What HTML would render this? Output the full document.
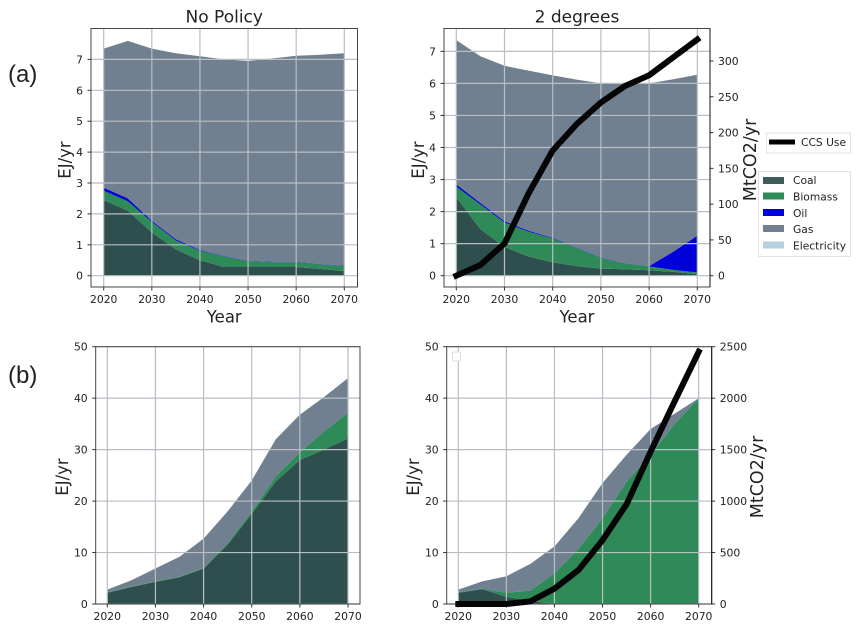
<!DOCTYPE html>
<html>
<head>
<meta charset="utf-8">
<style>
html,body{margin:0;padding:0;background:#fff;width:863px;height:634px;overflow:hidden}
svg{display:block;filter:blur(0.35px)}
text{font-family:"DejaVu Sans","Liberation Sans",sans-serif;fill:#222}
</style>
</head>
<body>
<svg id="fig" width="863" height="634" viewBox="0 0 863 634" xmlns="http://www.w3.org/2000/svg">
  <text x="8" y="82" style="font-family:'Liberation Sans',sans-serif;font-size:24px">(a)</text>
  <text x="8" y="383" style="font-family:'Liberation Sans',sans-serif;font-size:24px">(b)</text>
  <g>
    <rect x="766.5" y="133" width="84" height="20" fill="#fff" stroke="#e2e2e2"/>
    <line x1="769" x2="795" y1="142" y2="142" stroke="#000" stroke-width="5"/>
    <text x="801" y="146" font-size="10.7">CCS Use</text>
  </g>
  <g>
    <rect x="758.5" y="171.5" width="92" height="85" fill="#fff" stroke="#e2e2e2"/>
    <rect x="763" y="177" width="21" height="7" fill="#2f4f4f" opacity=".92"/>
    <text x="793" y="184" font-size="10.7">Coal</text>
    <rect x="763" y="192.5" width="21" height="7" fill="#2e8b57"/>
    <text x="793" y="200.5" font-size="10.7">Biomass</text>
    <rect x="763" y="209" width="21" height="7" fill="#0000d8"/>
    <text x="793" y="217" font-size="10.7">Oil</text>
    <rect x="763" y="225" width="21" height="7" fill="#708090"/>
    <text x="793" y="233" font-size="10.7">Gas</text>
    <rect x="763" y="241.5" width="21" height="7" fill="#b4d0de"/>
    <text x="793" y="249.5" font-size="10.7">Electricity</text>
  </g>
</svg>
<script>
const years = [2020,2025,2030,2035,2040,2045,2050,2055,2060,2065,2070];
const xTicks = [2020,2030,2040,2050,2060,2070];
const topTicks = [0,1,2,3,4,5,6,7];
const bottomTicks = [0,10,20,30,40,50];
const ccsTicksTop = [0,50,100,150,200,250,300];
const ccsTicksBottom = [0,500,1000,1500,2000,2500];

const coalNoPolicyA = [2.45,2.1,1.4,0.85,0.5,0.28,0.28,0.28,0.28,0.22,0.15];
const biomassNoPolicyA = [0.3,0.31,0.34,0.29,0.31,0.35,0.2,0.16,0.16,0.15,0.16];
const oilNoPolicyA = [0.1,0.09,0.04,0.04,0.02,0.01,0.01,0.01,0.01,0.01,0.01];
const gasNoPolicyA = [4.5,5.1,5.57,6.02,6.27,6.36,6.46,6.58,6.67,6.77,6.88];

const coalTwoDegA = [2.45,1.45,0.9,0.6,0.42,0.3,0.22,0.2,0.17,0.12,0.05];
const biomassTwoDegA = [0.33,0.77,0.76,0.77,0.74,0.56,0.34,0.18,0.12,0.06,0.05];
const oilTwoDegA = [0.07,0.05,0.04,0.03,0.02,0.01,0.01,0.01,0.01,0.57,1.15];
const gasTwoDegA = [4.5,4.58,4.85,5.0,5.07,5.25,5.43,5.61,5.7,5.38,5.02];
const ccsTwoDegA = [0,15,45,115,175,212,242,265,280,305,330];

const coalNoPolicyB = [2.2,3.3,4.3,5.2,6.9,11.5,17.5,23.8,28,30,32.2];
const biomassNoPolicyB = [0.1,0.1,0.1,0.1,0.1,0.3,0.5,1,1.5,3.5,5];
const oilNoPolicyB = [0,0,0,0,0,0,0,0,0,0,0];
const gasNoPolicyB = [0.5,1.2,2.5,3.9,5.7,6.2,6,7.2,7.3,6.7,6.7];

const coalTwoDegB = [2.2,2.9,1.4,0.6,0,0,0,0,0,0,0];
const biomassTwoDegB = [0.1,0.1,0.8,2,6,10.7,16.7,23.8,29,35,40];
const oilTwoDegB = [0,0,0,0,0,0,0,0,0,0,0];
const gasTwoDegB = [0.5,1.4,3.2,5.2,5.2,6,6.8,5.2,5,2,0];
const ccsTwoDegB = [0,0,0,25,150,330,620,970,1480,1970,2450];

const fuelColors = ['#2f4f4f','#2e8b57','#0000d8','#708090'];
const fuelNames = ['coal','biomass','oil','gas'];

const svg = document.getElementById('fig');
const NS = 'http://www.w3.org/2000/svg';

function make(tag, props, parent) {
  const e = document.createElementNS(NS, tag);
  for (const k in props) e.setAttribute(k, props[k]);
  parent.appendChild(e);
  return e;
}

function drawPanel(p) {
  const g = make('g', {}, svg);
  
  
  const xs = y => p.x0 + (y - 2020) / 50 * (p.x1 - p.x0);
  const ys = v => p.y0 - v * p.k;
  const ysR = v => p.y0 - v * p.kR;

  // stacked areas
  let base = years.map(() => 0);
  p.series.forEach((vals, s) => {
    const top = base.map((b, i) => b + vals[i]);
    let pts = years.map((y, i) => xs(y).toFixed(1) + ',' + ys(top[i]).toFixed(1));
    for (let i = years.length - 1; i >= 0; i--) pts.push(xs(years[i]).toFixed(1) + ',' + ys(base[i]).toFixed(1));
    const area = make('polygon', {points: pts.join(' '), fill: fuelColors[s]}, g);
    
    
    base = top;
  });

  // grid
  xTicks.forEach(t => {
    const l = make('line', {x1: xs(t), x2: xs(t), y1: p.top, y2: p.bottom, stroke: '#b8bec4', 'stroke-width': 1.2}, g);
    
    
  });
  p.yTicks.forEach(t => {
    const l = make('line', {x1: p.left, x2: p.right, y1: ys(t), y2: ys(t), stroke: '#b8bec4', 'stroke-width': 1.2}, g);
    
    
  });

  // frame
  const frame = make('rect', {x: p.left, y: p.top, width: p.right - p.left, height: p.bottom - p.top, fill: 'none', stroke: '#444', 'stroke-width': 1}, g);
  
  

  // x ticks
  xTicks.forEach(t => {
    const m = make('line', {x1: xs(t), x2: xs(t), y1: p.bottom, y2: p.bottom + 3.5, stroke: '#333', 'stroke-width': 1}, g);
    
    
    const tx = make('text', {x: xs(t), y: p.bottom + 16, 'text-anchor': 'middle', 'font-size': 10.8}, g);
    tx.textContent = t;
    
    
  });

  // y ticks
  p.yTicks.forEach(t => {
    const m = make('line', {x1: p.left - 3.5, x2: p.left, y1: ys(t), y2: ys(t), stroke: '#333', 'stroke-width': 1}, g);
    
    
    const tx = make('text', {x: p.left - 8, y: ys(t) + 4, 'text-anchor': 'end', 'font-size': 10.8}, g);
    tx.textContent = t;
    
    
  });

  // y axis title
  const yT = make('text', {transform: 'translate(' + p.yTitleX + ',' + p.yTitleY + ') rotate(-90)', 'text-anchor': 'middle', 'font-size': 16.5}, g);
  yT.textContent = 'EJ/yr';
  
  

  if (p.title) {
    const t = make('text', {x: (p.left + p.right) / 2, y: 22.5, 'text-anchor': 'middle', 'font-size': 17}, g);
    t.textContent = p.title;
    
    
  }
  if (p.xTitle) {
    const t = make('text', {x: (p.left + p.right) / 2, y: 322.5, 'text-anchor': 'middle', 'font-size': 16.5}, g);
    t.textContent = 'Year';
    
    
  }

  // CCS secondary axis
  if (p.ccs) {
    p.ccsTicks.forEach(t => {
      const m = make('line', {x1: p.right, x2: p.right + 3.5, y1: ysR(t), y2: ysR(t), stroke: '#333', 'stroke-width': 1}, g);
      
      
      const tx = make('text', {x: p.right + 8, y: ysR(t) + 4, 'font-size': 10.8}, g);
      tx.textContent = t;
      
      
    });
    const rs = make('line', {x1: p.right, x2: p.right, y1: p.top, y2: p.bottom, stroke: '#111', 'stroke-width': 1}, g);
    
    
    const rT = make('text', {transform: 'translate(' + p.rTitleX + ',' + p.rTitleY + ') rotate(-90)', 'text-anchor': 'middle', 'font-size': 17.5}, g);
    rT.textContent = 'MtCO2/yr';
    
    
    const pts = years.map((y, i) => xs(y).toFixed(1) + ',' + ysR(p.ccs[i]).toFixed(1)).join(' ');
    const line = make('polyline', {points: pts, fill: 'none', stroke: '#050505', 'stroke-width': 6, 'stroke-linejoin': 'round', 'stroke-linecap': 'square'}, g);
    
    
  }
}

drawPanel({name:'chart-no-policy-a', title:'No Policy', xTitle:true, left:91, right:357.5, top:28.5, bottom:287,
  x0:103.7, x1:344.3, y0:275.7, k:30.9, yTicks:topTicks, yTitleX:70.5, yTitleY:160,
  series:[coalNoPolicyA,biomassNoPolicyA,oilNoPolicyA,gasNoPolicyA]});
drawPanel({name:'chart-two-degrees-a', title:'2 degrees', xTitle:true, left:444, right:710, top:28.5, bottom:287,
  x0:456.3, x1:697.3, y0:275.7, k:32.05, yTicks:topTicks, yTitleX:424, yTitleY:160,
  series:[coalTwoDegA,biomassTwoDegA,oilTwoDegA,gasTwoDegA],
  ccs:ccsTwoDegA, kR:0.7157, ccsTicks:ccsTicksTop, rTitleX:756, rTitleY:160});
drawPanel({name:'chart-no-policy-b', left:95.7, right:360, top:346.7, bottom:604,
  x0:107.3, x1:348, y0:604, k:5.146, yTicks:bottomTicks, yTitleX:68, yTitleY:477,
  series:[coalNoPolicyB,biomassNoPolicyB,oilNoPolicyB,gasNoPolicyB]});
drawPanel({name:'chart-two-degrees-b', left:446.7, right:711.7, top:346.7, bottom:604,
  x0:458.3, x1:698.7, y0:604, k:5.146, yTicks:bottomTicks, yTitleX:419, yTitleY:477,
  series:[coalTwoDegB,biomassTwoDegB,oilTwoDegB,gasTwoDegB],
  ccs:ccsTwoDegB, kR:0.10292, ccsTicks:ccsTicksBottom, rTitleX:763, rTitleY:477});

const empty = make('rect', {x:452.5, y:352, width:8, height:9, rx:1, fill:'#fff', stroke:'#dcdcdc'}, svg);


</script>
</body>
</html>
